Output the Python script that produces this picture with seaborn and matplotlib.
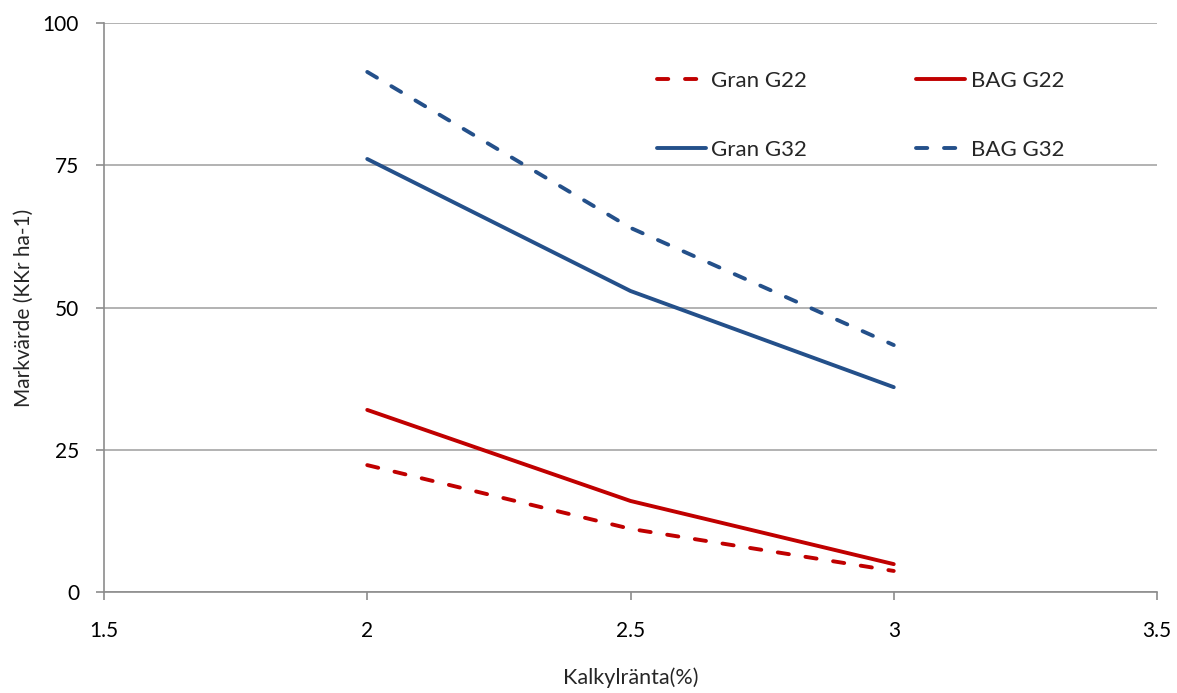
import matplotlib
matplotlib.use("Agg")
import matplotlib.pyplot as plt
import seaborn as sns
import pandas as pd
from matplotlib.lines import Line2D

rates = [2.0, 2.5, 3.0]
gran_g22 = [22.3, 11.1, 3.7]
bag_g22 = [32.0, 16.0, 4.9]
gran_g32 = [76.1, 52.9, 36.0]
bag_g32 = [91.4, 64.0, 43.4]
series_names = ["Gran G22", "Gran G32", "BAG G22", "BAG G32"]
x_ticks = [1.5, 2, 2.5, 3, 3.5]
x_tick_labels = ["1.5", "2", "2.5", "3", "3.5"]
y_ticks = [0, 25, 50, 75, 100]

RED = "#C00000"
BLUE = "#24508A"
LW = 2.8
DASH = (2.9, 4.3)

rows = []
for name, vals in zip(series_names, [gran_g22, gran_g32, bag_g22, bag_g32]):
    for r, v in zip(rates, vals):
        rows.append({"rate": r, "value": v, "series": name})
df = pd.DataFrame(rows)

sns.set_theme(style="white")
plt.rcParams["font.family"] = ["Lato", "DejaVu Sans"]

fig = plt.figure(figsize=(11.77, 6.93), dpi=100)
ax = fig.add_axes([104/1177, 1-592/693, (1157-104)/1177, (592-23)/693])

palette = {"Gran G22": RED, "BAG G22": RED, "Gran G32": BLUE, "BAG G32": BLUE}
dashes = {"Gran G22": DASH, "BAG G22": "", "Gran G32": "", "BAG G32": DASH}
sns.lineplot(data=df, x="rate", y="value", hue="series", style="series",
             hue_order=series_names, style_order=series_names,
             palette=palette, dashes=dashes, linewidth=LW, ax=ax,
             legend=False)
for ln in ax.lines:
    ln.set_solid_capstyle("round")
    ln.set_dash_capstyle("round")

ax.set_xlim(1.5, 3.5)
ax.set_ylim(0, 100)
ax.set_xticks(x_ticks)
ax.set_xticklabels(x_tick_labels)
ax.set_yticks(y_ticks)
ax.yaxis.grid(True, color="#A6A6A6", linewidth=1.2)
ax.xaxis.grid(False)
ax.set_axisbelow(True)
for s in ["top", "right"]:
    ax.spines[s].set_visible(False)
for s in ["left", "bottom"]:
    ax.spines[s].set_color("#8C8C8C")
    ax.spines[s].set_linewidth(1.2)
ax.tick_params(axis="both", which="both", direction="out", length=6, width=1.2,
               color="#8C8C8C", labelsize=15, labelcolor="black",
               bottom=True, left=True)
ax.tick_params(axis="x", pad=15)
ax.tick_params(axis="y", pad=12)
ax.set_xlabel("Kalkylränta(%)", fontsize=15.5, labelpad=19)
ax.set_ylabel("Markvärde (KKr ha-1)", fontsize=15, labelpad=6)

handles = []
for name in series_names:
    d = dashes[name]
    h = Line2D([0], [0], color=palette[name], linewidth=LW,
               linestyle=(0, d) if d else "-", solid_capstyle="round",
               dash_capstyle="round")
    handles.append(h)
ax.legend(handles, series_names, ncol=2, frameon=False, fontsize=16,
          loc="upper left", bbox_to_anchor=((657-104)/1053, (592-71)/569),
          handlelength=2.2, handletextpad=0.25, columnspacing=4.9,
          labelspacing=2.2, borderaxespad=0, borderpad=0)

fig.savefig("out.png", dpi=100)
